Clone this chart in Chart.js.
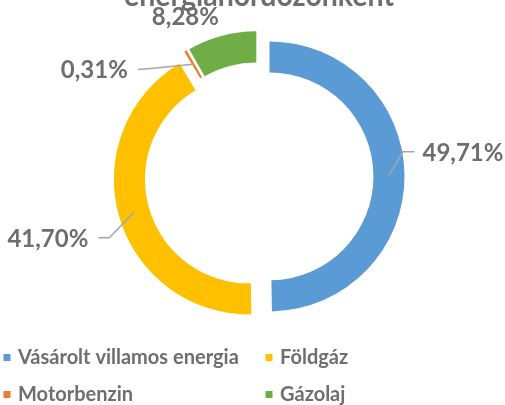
<!DOCTYPE html>
<html><head><meta charset="utf-8">
<script src="https://cdn.jsdelivr.net/npm/chart.js@4/dist/chart.umd.min.js"></script>
<style>html,body{margin:0;padding:0;background:#fff;overflow:hidden}canvas{display:block}</style>
</head><body>
<canvas id="c" width="505" height="405" style="width:505px;height:405px"></canvas>
<script>
// ---- data ----
const titleText = 'energiahordozónként';
const categories = ['Vásárolt villamos energia', 'Földgáz', 'Motorbenzin', 'Gázolaj'];
const shares = [49.71, 41.70, 0.31, 8.28];
const colors = ['#5B9BD5', '#FFC000', '#ED7D31', '#70AD47'];
const labelTexts = shares.map(v => v.toFixed(2).replace('.', ',') + '%');

// ---- style ----
const TEXT_GRAY = '#6E6E6E';
const LINE_GRAY = '#A6A6A6';
const FONT = 'Lato, "Open Sans", sans-serif';
const EXPLODE = 10.5;
// leader line / label placement relative to each slice's anchor (mid-angle, mid-ring)
const labelLayout = [
  { line: [[13.8, -23.5], [25.5, -23.5]], tx: 33.5, ty: -14.5, align: 'left' },
  { line: [[-24.7, 25.4], [-35.7, 25.4]], tx: -45.7, ty: 34.4, align: 'right' },
  { line: [[-42.5, 4.1], [-55.5, 5.1]], tx: -65.5, ty: 14.1, align: 'right' },
  { line: null, tx: -40.2, ty: -25.5, align: 'center' }
];
const legendLayout = [
  { x: 3.5, y: 364 }, { x: 265.5, y: 364 },
  { x: 3.5, y: 401 }, { x: 265.5, y: 401 }
];

// exploded slices: translate every arc along its mid angle
const baseArcDraw = Chart.ArcElement.prototype.draw;
Chart.ArcElement.prototype.draw = function (ctx) {
  const mid = (this.startAngle + this.endAngle) / 2;
  ctx.save();
  ctx.translate(Math.cos(mid) * EXPLODE, Math.sin(mid) * EXPLODE);
  baseArcDraw.call(this, ctx);
  ctx.restore();
};

const labelPlugin = {
  id: 'excelLabels',
  afterDraw(chart) {
    const ctx = chart.ctx;
    const meta = chart.getDatasetMeta(0);
    ctx.save();
    ctx.font = 'bold 24px ' + FONT;
    ctx.textBaseline = 'alphabetic';
    meta.data.forEach((arc, i) => {
      const p = arc.getProps(['x', 'y', 'startAngle', 'endAngle', 'innerRadius', 'outerRadius'], true);
      const mid = (p.startAngle + p.endAngle) / 2;
      const cx = p.x + Math.cos(mid) * EXPLODE;
      const cy = p.y + Math.sin(mid) * EXPLODE;
      const r = (p.innerRadius + p.outerRadius) / 2;
      const ax = cx + Math.cos(mid) * r;
      const ay = cy + Math.sin(mid) * r;
      const L = labelLayout[i];
      if (L.line) {
        ctx.strokeStyle = LINE_GRAY;
        ctx.lineWidth = 1.5;
        ctx.beginPath();
        ctx.moveTo(ax, ay);
        L.line.forEach(pt => ctx.lineTo(ax + pt[0], ay + pt[1]));
        ctx.stroke();
      }
      ctx.fillStyle = TEXT_GRAY;
      ctx.textAlign = L.align;
      ctx.fillText(labelTexts[i], ax + L.tx, ay + L.ty);
    });
    // legend
    ctx.font = 'bold 20px ' + FONT;
    ctx.textAlign = 'left';
    categories.forEach((name, i) => {
      const pos = legendLayout[i];
      ctx.fillStyle = colors[i];
      ctx.fillRect(pos.x, pos.y - 10, 7, 7);
      ctx.fillStyle = TEXT_GRAY;
      ctx.fillText(name, pos.x + 14.5, pos.y);
    });
    ctx.restore();
  }
};

new Chart(document.getElementById('c'), {
  type: 'doughnut',
  data: {
    labels: categories,
    datasets: [{
      data: shares,
      backgroundColor: colors,
      borderWidth: 0,
      hoverOffset: 0
    }]
  },
  options: {
    responsive: false,
    devicePixelRatio: 1,
    animation: false,
    events: [],
    cutout: '77%',
    layout: { padding: { left: 124, right: 111, top: 0, bottom: 93.5 } },
    plugins: {
      legend: { display: false },
      tooltip: { enabled: false },
      title: {
        display: true,
        text: titleText,
        color: TEXT_GRAY,
        font: { family: FONT, size: 29.5, weight: 'bold' },
        padding: { top: -21.5, bottom: 27.6 }
      }
    }
  },
  plugins: [labelPlugin]
});
</script>
</body></html>
